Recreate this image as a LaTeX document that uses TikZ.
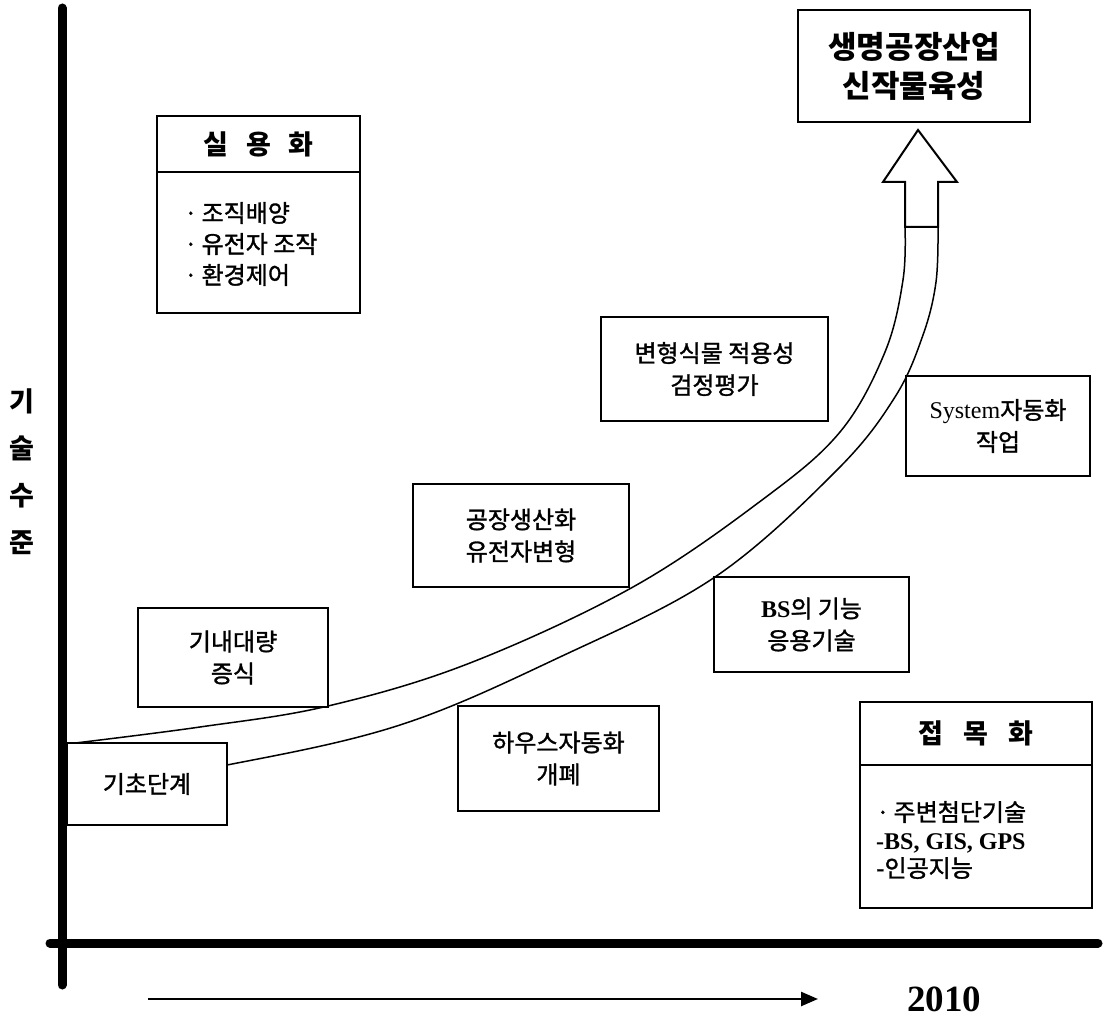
\documentclass[tikz,border=0pt]{standalone}
\usepackage{fontspec}
\setmainfont{Noto Sans CJK KR}
\newfontfamily\krmed[FakeBold=1.3]{Noto Sans CJK KR}
\newfontfamily\lat{Liberation Serif}
\usetikzlibrary{arrows.meta}
\tikzset{
  box/.style={draw, line width=1.6pt, fill=white, inner sep=0pt, align=center,
    font=\fontsize{24}{32}\selectfont\krmed},
  titlebox/.style={box, font=\fontsize{27}{36}\selectfont\bfseries},
  items/.style={inner sep=0pt, align=left, font=\fontsize{24}{31}\selectfont\krmed},
  axis/.style={line width=9pt, line cap=round},
  band/.style={line width=1.5pt},
  timearrow/.style={line width=2.5pt, -{Triangle[length=17pt,width=14pt]}},
}
\begin{document}
\begin{tikzpicture}[x=1pt,y=-1pt]
\useasboundingbox (0,0) rectangle (1104,1019);
% axes
\coordinate (yt) at (62,8);
\coordinate (yb) at (62,985);
\coordinate (xl) at (50,943);
\coordinate (xr) at (1098,943);
\draw[axis] (yt) -- (yb);
\draw[axis] (xl) -- (xr);
% y label
\node[inner sep=0pt, align=center, font=\fontsize{27}{47}\selectfont\bfseries] (ylab) at (22,472) {기\\술\\수\\준};
% time arrow
\coordinate (ts) at (148,999);
\coordinate (te) at (818,999);
\draw[timearrow] (ts) -- (te);
\node[inner sep=0pt, font=\fontsize{37}{40}\selectfont\lat\bfseries] (year) at (944,999) {2010};
% curved band
\draw[band] plot[smooth, tension=0.6] coordinates {(905,227) (903,280) (885,352) (840,432) (762,500) (633,587) (470,663) (328,706) (200,727) (67,744)};
\draw[band] plot[smooth, tension=0.6] coordinates {(938,227) (936,282) (923,335) (895,397) (837,470) (715,577) (560,657) (400,725) (227,765) (67,790)};
% big hollow arrow
\draw[line width=2pt, fill=white, line join=miter] (918,130) -- (957,182) -- (938,182) -- (938,227) -- (905,227) -- (905,182) -- (883,182) -- cycle;
% boxes
\node[box, minimum width=232pt, minimum height=112pt, font=\fontsize{31}{39}\selectfont\bfseries] (goal) at (914,66) {생명공장산업\\신작물육성};
\node[titlebox, minimum width=203pt, minimum height=56pt] (sytitle) at (258.5,144) {실\hspace{18pt}용\hspace{18pt}화};
\node[box, minimum width=203pt, minimum height=141pt] (sybody) at (258.5,242.5) {};
\node[items, anchor=west] (syitems) at (184,244) {·\,조직배양\\·\,유전자 조작\\·\,환경제어};
\node[titlebox, minimum width=232pt, minimum height=63pt] (jmtitle) at (976,733.5) {접\hspace{20pt}목\hspace{20pt}화};
\node[box, minimum width=232pt, minimum height=143pt] (jmbody) at (976,836.5) {};
\node[items, anchor=west, font=\fontsize{24}{28}\selectfont\krmed] (jmitems) at (876,840) {·\,주변첨단기술\\{\lat\bfseries -BS, GIS, GPS}\\-인공지능};
\node[box, minimum width=160pt, minimum height=82pt] (kicho) at (147,784) {기초단계};
\node[box, minimum width=190pt, minimum height=99pt] (kinae) at (233,657.5) {기내대량\\증식};
\node[box, minimum width=216pt, minimum height=103pt] (gongjang) at (521,535.5) {공장생산화\\유전자변형};
\node[box, minimum width=201pt, minimum height=105pt] (house) at (558.5,758.5) {하우스자동화\\개폐};
\node[box, minimum width=195pt, minimum height=95pt] (bs) at (811.5,624.5) {{\lat\bfseries BS}의 기능\\응용기술};
\node[box, minimum width=227pt, minimum height=104pt] (byun) at (714.5,369) {변형식물 적용성\\검정평가};
\node[box, minimum width=184pt, minimum height=100pt] (sys) at (998,426) {{\lat System}자동화\\작업};
\end{tikzpicture}
\end{document}
